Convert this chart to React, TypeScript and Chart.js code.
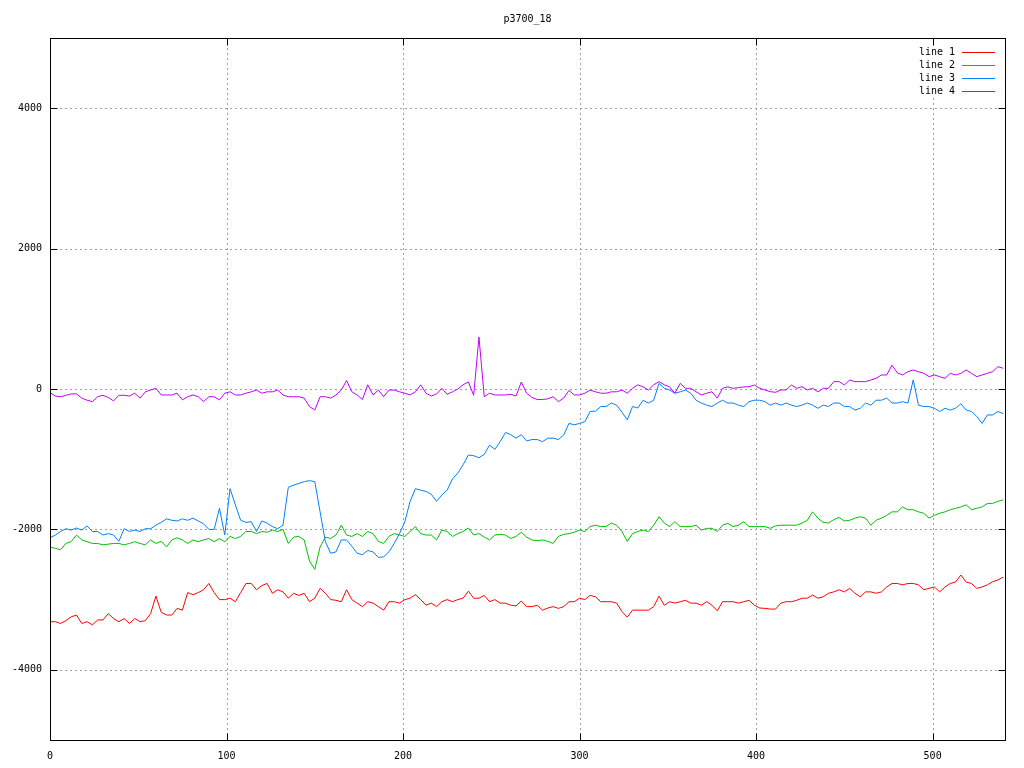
import React, { useEffect, useRef } from "react";
import { Chart, registerables } from "chart.js";

Chart.register(...registerables);

const TITLE = "p3700_18";
const SERIES_NAMES = ["line 1", "line 2", "line 3", "line 4"];
const SERIES_COLORS = ["#ff0000", "#00c000", "#0080ff", "#c000ff"];
const SAMPLE_STEP = 3;
const X_TICKS = [0, 100, 200, 300, 400, 500];
const Y_TICKS = [-4000, -2000, 0, 2000, 4000];
const X_MIN = 0;
const X_MAX = 541;
const Y_MIN = -5000;
const Y_MAX = 5000;

const line1 = [
  -3315, -3315, -3340, -3300, -3245, -3220, -3340, -3315, -3360, -3290, -3290, -3200, -3270, -3315, -3270, -3340, -3270, -3315, -3300,
  -3200, -2950, -3180, -3220, -3220, -3125, -3150, -2900, -2930, -2900, -2860, -2770, -2900, -3000, -3000, -2980, -3030, -2900,
  -2770, -2770, -2860, -2800, -2770, -2910, -2860, -2890, -2980, -2910, -2940, -2910, -3030, -2980, -2840, -2910, -3000, -3010, -3030,
  -2860, -3000, -3050, -3100, -3030, -3050, -3100, -3150, -3030, -3030, -3050, -3000, -2980, -2930, -3000, -3080, -3050, -3100, -3030,
  -3000, -3030, -3000, -2980, -2880, -2980, -2980, -2940, -3030, -3000, -3050, -3050, -3080, -3090, -3020, -3100, -3100, -3080, -3150,
  -3120, -3100, -3125, -3100, -3030, -3030, -2980, -3000, -2940, -2960, -3030, -3030, -3030, -3050, -3170, -3250, -3150, -3150, -3150,
  -3150, -3100, -2950, -3080, -3030, -3050, -3030, -3010, -3050, -3050, -3080, -3030, -3080, -3160, -3030, -3030, -3030, -3050, -3030,
  -3010, -3080, -3120, -3125, -3135, -3135, -3050, -3030, -3030, -3010, -2980, -2980, -2935, -2980, -2960, -2910, -2890, -2860, -2890,
  -2840, -2910, -2960, -2890, -2890, -2910, -2890, -2820, -2770, -2770, -2790, -2770, -2770, -2790, -2860, -2840, -2820, -2890, -2820,
  -2770, -2750, -2650, -2750, -2770, -2840, -2820, -2790, -2745, -2720, -2680,
];

const line2 = [
  -2250, -2270, -2290, -2200, -2175, -2080, -2150, -2175, -2200, -2200, -2220, -2210, -2200, -2200, -2220, -2200, -2175, -2200, -2220,
  -2150, -2200, -2170, -2250, -2150, -2120, -2150, -2200, -2150, -2175, -2150, -2130, -2175, -2130, -2175, -2100, -2130, -2100,
  -2030, -2030, -2060, -2030, -2040, -2010, -2030, -2000, -2200, -2110, -2100, -2150, -2450, -2570, -2250, -2110, -2130, -2080, -1940,
  -2080, -2100, -2060, -2100, -2030, -2060, -2170, -2200, -2100, -2060, -2080, -2100, -2030, -1960, -2060, -2080, -2080, -2150, -2010,
  -2030, -2100, -2060, -2030, -1980, -2080, -2060, -2110, -2150, -2080, -2070, -2080, -2130, -2100, -2040, -2110, -2150, -2160, -2150,
  -2170, -2200, -2100, -2070, -2060, -2040, -2010, -2030, -1960, -1940, -1960, -1960, -1910, -1940, -2030, -2170, -2060, -2030, -2010,
  -2030, -1940, -1820, -1910, -1960, -1890, -1960, -1960, -1960, -1940, -2010, -1985, -1985, -2030, -1940, -1915, -1960, -1940, -1890,
  -1960, -1960, -1960, -1960, -1985, -1950, -1940, -1940, -1940, -1940, -1910, -1870, -1750, -1840, -1900, -1910, -1860, -1830, -1880,
  -1870, -1840, -1820, -1840, -1940, -1870, -1840, -1800, -1750, -1750, -1680, -1720, -1720, -1750, -1770, -1840, -1800, -1770, -1750,
  -1720, -1700, -1680, -1650, -1720, -1700, -1680, -1630, -1630, -1600, -1580,
];

const line3 = [
  -2120, -2080, -2030, -1990, -2010, -1980, -2010, -1950, -2030, -2030, -2080, -2060, -2080, -2170, -1990, -2030, -2010, -2030, -1990,
  -1990, -1940, -1900, -1850, -1870, -1880, -1850, -1870, -1840, -1880, -1920, -2000, -2000, -1700, -2080, -1420, -1650, -1870,
  -1900, -1890, -2030, -1880, -1910, -1960, -1990, -1940, -1400, -1370, -1345, -1320, -1305, -1320, -1750, -2175, -2340, -2320, -2150,
  -2150, -2240, -2340, -2360, -2300, -2320, -2400, -2390, -2320, -2200, -2060, -1890, -1600, -1420, -1440, -1460, -1500, -1600, -1510,
  -1440, -1280, -1200, -1080, -940, -950, -980, -930, -800, -860, -750, -620, -650, -700, -650, -740, -720, -720, -750,
  -700, -700, -720, -655, -490, -510, -490, -465, -320, -315, -250, -250, -200, -230, -330, -440, -250, -270, -160,
  -200, -160, 80, 10, -15, -60, -40, -15, -60, -160, -200, -230, -250, -200, -160, -200, -200, -230, -250,
  -180, -160, -160, -180, -230, -200, -230, -200, -230, -250, -230, -200, -230, -275, -230, -250, -200, -200, -250,
  -250, -300, -275, -200, -230, -160, -160, -130, -200, -200, -180, -200, 128, -230, -250, -250, -275, -320, -275,
  -300, -275, -210, -300, -320, -390, -490, -370, -370, -320, -350,
];

const line4 = [
  -50, -100, -110, -90, -70, -70, -130, -160, -180, -110, -90, -120, -170, -90, -90, -100, -60, -130, -40,
  -15, 10, -85, -85, -85, -60, -155, -110, -85, -110, -180, -110, -110, -155, -60, -40, -85, -85,
  -60, -40, -15, -60, -40, -40, -15, -85, -110, -110, -110, -130, -250, -300, -110, -110, -130, -85, -15,
  120, -40, -85, -150, 60, -85, -15, -110, -15, -15, -40, -60, -85, -40, 60, -60, -100, -70, 10,
  -75, -40, 0, 60, 100, -90, 740, -110, -60, -85, -85, -85, -75, -100, 100, -60, -120, -150, -150,
  -140, -110, -180, -130, -20, -85, -85, -60, -15, -40, -60, -60, -40, -40, -15, -60, 10, 60, 30,
  -15, 60, 105, 60, 30, -60, 80, 10, 10, -40, -85, -60, -40, -130, 10, 30, 10, 20, 30,
  33, 57, 10, -14, -38, -47, -14, -14, 57, 10, 33, -14, 10, -40, 10, 10, 105, 105, 57,
  128, 105, 105, 105, 128, 152, 200, 200, 340, 230, 200, 247, 271, 247, 225, 176, 200, 176, 152,
  223, 200, 223, 271, 223, 176, 200, 223, 247, 318, 295,
];

const SERIES = [line1, line2, line3, line4];
const FONT = '"DejaVu Sans Mono", monospace';

const gnuplotPlugin = {
  id: "gnuplotLook",
  beforeDatasetsDraw(chart: any) {
    const { ctx, chartArea } = chart;
    const { left, right, top, bottom } = chartArea;
    const xs = chart.scales.x;
    const ys = chart.scales.y;
    ctx.save();
    ctx.strokeStyle = "#a0a0a0";
    ctx.lineWidth = 1;
    ctx.setLineDash([2, 3]);
    X_TICKS.forEach((v) => {
      if (v === X_MIN) return;
      const px = Math.round(xs.getPixelForValue(v)) + 0.5;
      ctx.beginPath();
      ctx.moveTo(px, bottom);
      ctx.lineTo(px, top);
      ctx.stroke();
    });
    Y_TICKS.forEach((v) => {
      const py = Math.round(ys.getPixelForValue(v)) + 0.5;
      ctx.beginPath();
      ctx.moveTo(left, py);
      ctx.lineTo(right, py);
      ctx.stroke();
    });
    ctx.setLineDash([]);
    // key area is kept clear of the grid
    ctx.fillStyle = "#ffffff";
    ctx.fillRect(912, 45, 90, 53);
    ctx.restore();
  },
  afterDatasetsDraw(chart: any) {
    const { ctx, chartArea } = chart;
    const { left, right, top, bottom } = chartArea;
    const xs = chart.scales.x;
    const ys = chart.scales.y;
    ctx.save();
    ctx.strokeStyle = "#000000";
    ctx.lineWidth = 1;
    const L = Math.round(left) + 0.5;
    const R = Math.round(right) + 0.5;
    const T = Math.round(top) + 0.5;
    const B = Math.round(bottom) + 0.5;
    ctx.strokeRect(L, T, R - L, B - T);
    const tick = 7;
    ctx.beginPath();
    X_TICKS.forEach((v) => {
      const px = Math.round(xs.getPixelForValue(v)) + 0.5;
      ctx.moveTo(px, B);
      ctx.lineTo(px, B - tick);
      ctx.moveTo(px, T);
      ctx.lineTo(px, T + tick);
    });
    Y_TICKS.forEach((v) => {
      const py = Math.round(ys.getPixelForValue(v)) + 0.5;
      ctx.moveTo(L, py);
      ctx.lineTo(L + tick, py);
      ctx.moveTo(R, py);
      ctx.lineTo(R - tick, py);
    });
    ctx.stroke();

    // title
    ctx.fillStyle = "#000000";
    ctx.font = `10px ${FONT}`;
    ctx.textAlign = "center";
    ctx.textBaseline = "middle";
    ctx.fillText(TITLE, (left + right) / 2, 19);

    // key
    SERIES_NAMES.forEach((name, i) => {
      const y = 52 + i * 13;
      ctx.fillStyle = "#000000";
      ctx.textAlign = "right";
      ctx.fillText(name, 955, y);
      ctx.strokeStyle = SERIES_COLORS[i];
      ctx.beginPath();
      ctx.moveTo(962, y + 0.5);
      ctx.lineTo(995, y + 0.5);
      ctx.stroke();
    });
    ctx.restore();
  },
};

export default function App() {
  const canvasRef = useRef<HTMLCanvasElement | null>(null);

  useEffect(() => {
    const canvas = canvasRef.current;
    if (!canvas) return;
    const datasets = SERIES.map((vals, i) => ({
      label: SERIES_NAMES[i],
      data: vals.map((v, k) => ({ x: k * SAMPLE_STEP, y: v })),
      borderColor: SERIES_COLORS[i],
      backgroundColor: SERIES_COLORS[i],
      borderWidth: 1,
      pointRadius: 0,
      tension: 0,
      fill: false,
      order: SERIES.length - i,
    }));
    const chart = new Chart(canvas, {
      type: "line",
      data: { datasets },
      options: {
        animation: false,
        responsive: false,
        devicePixelRatio: 1,
        layout: { padding: { top: 38, right: 19, left: 0, bottom: 0 } },
        plugins: {
          legend: { display: false },
          title: { display: false },
          tooltip: { enabled: false },
        },
        scales: {
          x: {
            type: "linear",
            min: X_MIN,
            max: X_MAX,
            grid: { display: false, drawTicks: false },
            border: { display: false },
            afterBuildTicks: (scale: any) => {
              scale.ticks = X_TICKS.map((v) => ({ value: v }));
            },
            afterFit: (scale: any) => {
              scale.height = 28;
            },
            ticks: {
              padding: 10,
              maxRotation: 0,
              autoSkip: false,
              color: "#000000",
              font: { family: FONT, size: 10 },
              callback: (v: any) => String(v),
            },
          },
          y: {
            type: "linear",
            min: Y_MIN,
            max: Y_MAX,
            grid: { display: false, drawTicks: false },
            border: { display: false },
            afterBuildTicks: (scale: any) => {
              scale.ticks = Y_TICKS.map((v) => ({ value: v }));
            },
            afterFit: (scale: any) => {
              scale.width = 50;
            },
            ticks: {
              padding: 8,
              autoSkip: false,
              color: "#000000",
              font: { family: FONT, size: 10 },
              callback: (v: any) => String(v),
            },
          },
        },
      },
      plugins: [gnuplotPlugin],
    });
    return () => chart.destroy();
  }, []);

  return (
    <div
      style={{
        position: "fixed",
        left: 0,
        top: 0,
        width: 1024,
        height: 768,
        background: "#ffffff",
      }}
    >
      <canvas ref={canvasRef} width={1024} height={768} />
    </div>
  );
}
